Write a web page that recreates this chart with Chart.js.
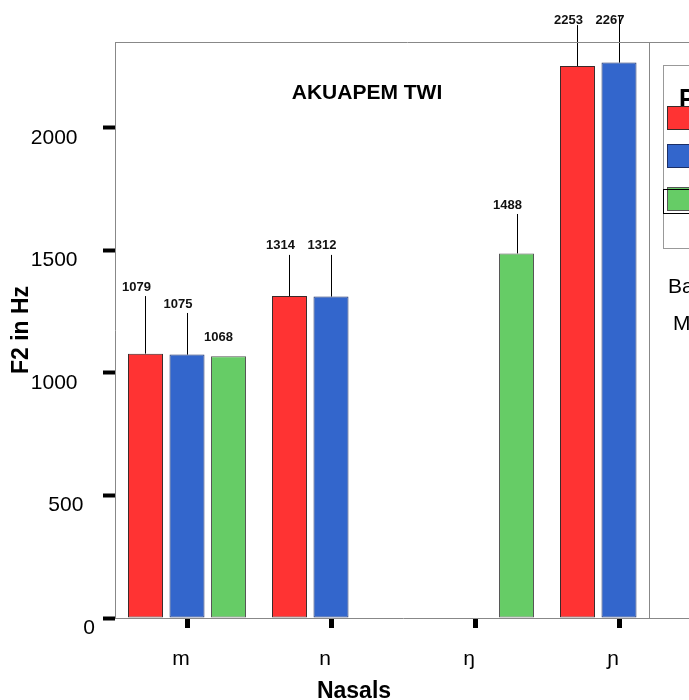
<!DOCTYPE html>
<html>
<head>
<meta charset="utf-8">
<script src="https://cdn.jsdelivr.net/npm/chart.js@4.4.1/dist/chart.umd.min.js"></script>
<style>
  html, body { margin: 0; padding: 0; background: #fff; overflow: hidden; }
  #wrap { width: 700px; height: 700px; }
</style>
</head>
<body>
<div id="wrap"><canvas id="myChart" width="700" height="700"></canvas></div>
<script>
const nasals = ["m", "n", "ŋ", "ɲ"];
const positions = ["Initial", "Medial", "Final"];
const initialF2 = [1079, 1314, null, 2253];
const medialF2 = [1075, 1312, null, 2267];
const finalF2 = [1068, null, 1488, null];
// top end of each error bar (Hz)
const initialErr = [1314, 1482, null, 2420];
const medialErr = [1245, 1482, null, 2461];
const finalErr = [null, null, 1649, null];
const yTicks = [0, 500, 1000, 1500, 2000];

const errTops = [initialErr, medialErr, finalErr];
const FONT = "'Liberation Sans', Arial, sans-serif";

const sketch = {
    id: "sketch",
    beforeDraw(chart) {
        const ctx = chart.ctx;
        ctx.save();
        ctx.fillStyle = "#fff";
        ctx.fillRect(0, 0, chart.width, chart.height);
        ctx.restore();
    },
    afterDatasetsDraw(chart) {
        const ctx = chart.ctx;
        const y = chart.scales.y;
        ctx.save();
        ctx.strokeStyle = "#000";
        ctx.lineWidth = 1;
        ctx.fillStyle = "#111";
        ctx.font = "bold 13px " + FONT;
        ctx.textAlign = "center";
        ctx.textBaseline = "middle";
        chart.data.datasets.forEach((ds, i) => {
            const meta = chart.getDatasetMeta(i);
            meta.data.forEach((bar, j) => {
                const v = ds.data[j];
                if (v == null) return;
                const top = errTops[i][j];
                const bx = Math.round(bar.x) + 0.5;
                let lx, ly;
                if (top != null) {
                    const ty = y.getPixelForValue(top);
                    ctx.beginPath();
                    ctx.moveTo(bx, bar.y);
                    ctx.lineTo(bx, ty);
                    ctx.stroke();
                    lx = bar.x - 9;
                    ly = Math.max(ty - 9, 20);
                } else {
                    lx = bar.x - 10;
                    ly = bar.y - 19;
                }
                ctx.fillText(String(v), lx, ly);
            });
        });
        ctx.restore();
    },
    afterDraw(chart) {
        const ctx = chart.ctx;
        const a = chart.chartArea;
        ctx.save();
        // frame top and legend panel divider
        ctx.strokeStyle = "#888";
        ctx.lineWidth = 1;
        ctx.beginPath();
        ctx.moveTo(a.left, a.top + 0.5);
        ctx.lineTo(chart.width, a.top + 0.5);
        ctx.moveTo(649.5, a.top);
        ctx.lineTo(649.5, a.bottom);
        ctx.stroke();

        // chart title
        ctx.fillStyle = "#000";
        ctx.font = "bold 21px " + FONT;
        ctx.textAlign = "center";
        ctx.textBaseline = "alphabetic";
        ctx.fillText("AKUAPEM TWI", 367, 99);

        // x axis title
        ctx.font = "bold 23px " + FONT;
        ctx.fillText("Nasals", 354, 698);

        // legend panel
        ctx.strokeStyle = "#999";
        ctx.strokeRect(663.5, 65.5, 80, 183);
        ctx.textAlign = "left";
        ctx.font = "bold 25px " + FONT;
        ctx.fillText("Position", 679, 107);
        const swatchY = [106, 144, 187];
        chart.data.datasets.forEach((ds, i) => {
            ctx.fillStyle = ds.backgroundColor;
            ctx.fillRect(667, swatchY[i], 40, 23);
            ctx.strokeStyle = ds.borderColor;
            ctx.strokeRect(667.5, swatchY[i] + 0.5, 40, 23);
            ctx.fillStyle = "#000";
            ctx.font = "21px " + FONT;
            ctx.fillText(ds.label, 715, swatchY[i] + 18);
        });
        ctx.strokeStyle = "#000";
        ctx.strokeRect(663.5, 189.5, 80, 24);

        ctx.fillStyle = "#000";
        ctx.font = "21px " + FONT;
        ctx.fillText("Bars show", 668, 293);
        ctx.fillText("Means", 673, 330);
        ctx.restore();
    }
};

new Chart("myChart", {
    type: "bar",
    data: {
        labels: nasals,
        datasets: [{
            label: positions[0],
            data: initialF2,
            backgroundColor: "#FF3333",
            borderColor: "#3a2a2a",
            borderWidth: 1,
            borderSkipped: false
        }, {
            label: positions[1],
            data: medialF2,
            backgroundColor: "#3366CC",
            borderColor: "#1c2f66",
            borderWidth: 1,
            borderSkipped: false
        }, {
            label: positions[2],
            data: finalF2,
            backgroundColor: "#66CC66",
            borderColor: "#555555",
            borderWidth: 1,
            borderSkipped: false
        }]
    },
    options: {
        responsive: false,
        animation: false,
        devicePixelRatio: 1,
        categoryPercentage: 0.865,
        barPercentage: 0.843,
        layout: { padding: { top: 42, right: 9, bottom: 0, left: 0 } },
        plugins: {
            legend: { display: false },
            tooltip: { enabled: false }
        },
        scales: {
            x: {
                afterFit: s => { s.height = 82; },
                grid: {
                    offset: false,
                    drawOnChartArea: false,
                    tickLength: 10,
                    tickWidth: 5,
                    tickColor: "#000"
                },
                border: { color: "#888", width: 1 },
                ticks: {
                    color: "#000",
                    font: { family: FONT, size: 21 },
                    padding: 19,
                    labelOffset: -6,
                    maxRotation: 0,
                    autoSkip: false
                }
            },
            y: {
                min: 0,
                max: 2351,
                afterFit: s => { s.width = 115; },
                afterBuildTicks: s => { s.ticks = yTicks.map(v => ({ value: v })); },
                grid: {
                    drawOnChartArea: false,
                    tickLength: 12,
                    tickWidth: 4,
                    tickColor: "#000"
                },
                border: { color: "#888", width: 1 },
                ticks: {
                    color: "#000",
                    font: { family: FONT, size: 21 },
                    padding: 8,
                    labelOffset: 10,
                    callback: v => v === 0 ? "0" : v < 1000 ? v + "  " : v + "   "
                },
                title: {
                    display: true,
                    text: "F2 in Hz",
                    color: "#000",
                    font: { family: FONT, size: 23, weight: "bold" },
                    padding: { top: 8, bottom: 0 }
                }
            }
        }
    },
    plugins: [sketch]
});
</script>
</body>
</html>
